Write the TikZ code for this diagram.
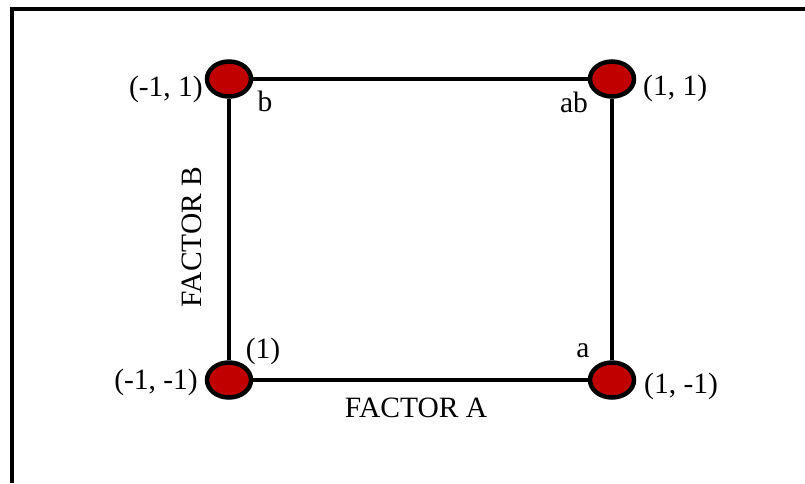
\documentclass[tikz,border=0pt]{standalone}
\usepackage{fontspec}
\setmainfont{Liberation Serif}
\usepackage{xcolor}
\definecolor{cDot}{HTML}{C00000}
\usetikzlibrary{shapes.geometric, positioning}
\tikzset{
  pnt/.style  = {ellipse, draw=black, line width=4.5pt, fill=cDot,
                 minimum width=44pt, minimum height=35pt, inner sep=0pt},
  side/.style = {line width=4.5pt},
  lbl/.style  = {font=\fontsize{29.5}{32}\selectfont, inner sep=0pt},
}
\begin{document}
\begin{tikzpicture}[x=1pt, y=-1pt]
  \useasboundingbox (0,0) rectangle (805,483);
  % frame
  \draw[line width=3.5pt] (12,483) -- (12,9) -- (805,9);

  \node[pnt] (tl) at (229,79)  {};
  \node[pnt] (tr) at (612,79)  {};
  \node[pnt] (bl) at (229,380) {};
  \node[pnt] (br) at (612,380) {};

  \draw[side] (tl) -- (tr);
  \draw[side] (tr) -- (br);
  \draw[side] (br) -- (bl);
  \draw[side] (bl) -- (tl);

  \node[lbl, anchor=east] (ctl) at (203,89)  {(-1, 1)};
  \node[lbl, anchor=west] (ctr) at (643,88)  {(1, 1)};
  \node[lbl, anchor=east] (cbl) at (198,382) {(-1, -1)};
  \node[lbl, anchor=west] (cbr) at (644,386) {(1, -1)};

  \node[lbl] (tb)  at (265,101) {b};
  \node[lbl] (tab) at (574,102) {ab};
  \node[lbl] (tone) at (263,351) {(1)};
  \node[lbl] (ta)  at (583,351) {a};

  \node[lbl] (fa) at (416,408) {FACTOR A};
  \node[lbl, rotate=90] (fb) at (192,237) {FACTOR B};
\end{tikzpicture}
\end{document}
